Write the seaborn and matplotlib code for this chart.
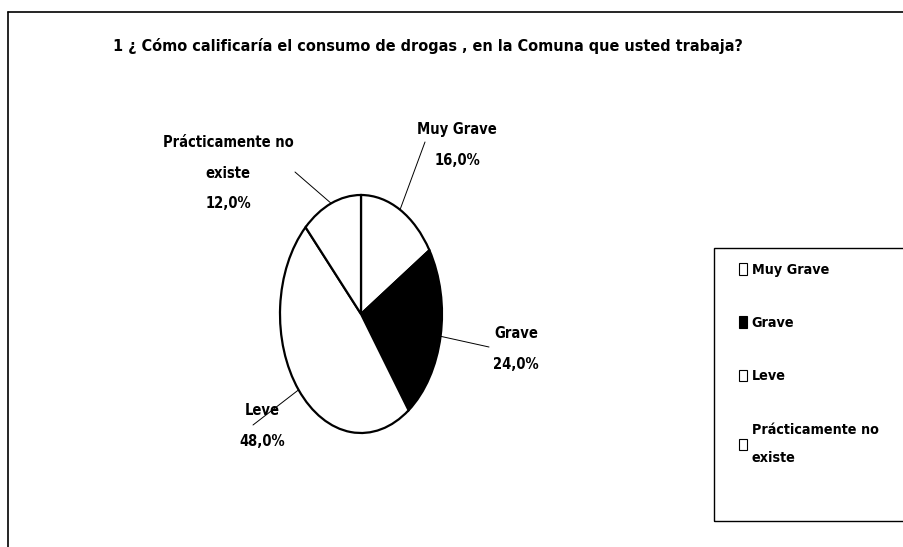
import numpy as np
import seaborn as sns
import matplotlib.pyplot as plt
from matplotlib.patches import Rectangle, Patch
from matplotlib.lines import Line2D

sns.set_theme(style="white")
plt.rcParams['font.family'] = ['DejaVu Sans']
plt.rcParams['font.stretch'] = 'condensed'
plt.rcParams['font.weight'] = 'bold'
plt.rcParams['text.color'] = 'black'

# data
categorias = ['Muy Grave', 'Grave', 'Leve', 'Prácticamente no existe']
porcentajes = [16.0, 24.0, 48.0, 12.0]
colores = ['white', 'black', 'white', 'white']
titulo = '1 ¿ Cómo calificaría el consumo de drogas , en la Comuna que usted trabaja?'

W, H = 904, 547
fig = plt.figure(figsize=(W / 100, H / 100), dpi=100)

def fx(px):
    return px / W

def fy(py):
    return 1 - py / H

# outer border of the chart area
fig.add_artist(Line2D([fx(8), fx(8)], [fy(12), fy(560)], color='black', lw=1.2))
fig.add_artist(Line2D([fx(8), fx(920)], [fy(12), fy(12)], color='black', lw=1.2))

fig.text(fx(113), fy(46), titulo, fontsize=11.6, fontweight='bold', va='center', ha='left')

# pie squashed into an ellipse
cx, cy, rx, ry = 361, 314, 81, 119
ax = fig.add_axes([fx(cx - rx), fy(cy + ry), 2 * rx / W, 2 * ry / H])
wedges, _ = ax.pie(porcentajes, colors=colores, startangle=90, counterclock=False,
                   wedgeprops=dict(edgecolor='black', linewidth=1.6))
ax.set_aspect('auto')
ax.set_xlim(-1, 1)
ax.set_ylim(-1, 1)
ax.axis('off')

# label centres and leader line starts (pixels)
pos_etiquetas = [(457, 145), (516, 349), (262, 426), (228, 173)]
inicio_lineas = [(425, 142), (489, 347), (253, 425), (295, 172)]
for w, val, cat, (px, py), (lx, ly) in zip(wedges, porcentajes, categorias, pos_etiquetas, inicio_lineas):
    ang = np.deg2rad((w.theta1 + w.theta2) / 2)
    nombre = cat.replace('no existe', 'no\nexiste')
    txt = f"{nombre}\n{val:.1f}%".replace('.', ',')
    fig.text(fx(px), fy(py), txt, fontsize=10.5, fontweight='bold', ha='center', va='center',
             linespacing=2.3)
    ax.annotate('', xy=(np.cos(ang), np.sin(ang)), xycoords='data',
                xytext=(fx(lx), fy(ly)), textcoords='figure fraction',
                arrowprops=dict(arrowstyle='-', color='black', lw=0.7, shrinkA=0, shrinkB=0))

# legend box
fig.add_artist(Rectangle((fx(714), fy(521)), fx(300), (521 - 248) / H, transform=fig.transFigure,
                         fill=False, edgecolor='black', lw=1.0))
handles = [Patch(facecolor=c, edgecolor='black', lw=0.8) for c in colores]
labels = [c.replace('no existe', 'no\nexiste') for c in categorias]
leg = fig.legend(handles, labels, loc='upper left', bbox_to_anchor=(fx(733), fy(257)), frameon=False,
                 fontsize=10.3, handlelength=0.55, handleheight=0.9, handletextpad=0.35,
                 labelspacing=2.75, borderaxespad=0)
for t in leg.get_texts():
    t.set_linespacing(2.3)

fig.savefig('out.png', dpi=100)
